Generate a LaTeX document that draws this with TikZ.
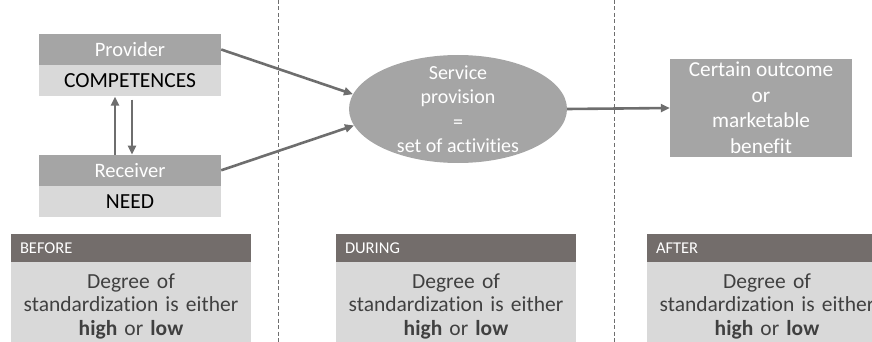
\documentclass[tikz,border=0pt]{standalone}
\usepackage{fontspec}
\setmainfont{Carlito}[Ligatures=NoCommon]
\usepackage{xcolor}
\usetikzlibrary{shapes.geometric, arrows.meta, positioning}

\definecolor{boxgray}{HTML}{A5A5A5}
\definecolor{palegray}{HTML}{D9D9D9}
\definecolor{phasegray}{HTML}{736D6B}
\definecolor{linegray}{HTML}{6E6E6E}
\definecolor{notetext}{HTML}{404040}

\begin{document}
\begin{tikzpicture}[
    x=1pt, y=-1pt,
    role/.style={rectangle, fill=boxgray, minimum width=182pt, minimum height=31pt, inner sep=0pt, text=white, font=\fontsize{20.5}{24}\selectfont},
    trait/.style={rectangle, fill=palegray, minimum width=182pt, minimum height=31pt, inner sep=0pt, text=black, font=\fontsize{21.5}{24}\selectfont},
    phase/.style={rectangle, fill=phasegray, text width=222pt, inner xsep=9pt, inner ysep=0pt, minimum height=28pt, align=left, text=white, font=\fontsize{16.5}{18}\selectfont},
    note/.style={rectangle, fill=palegray, text width=222pt, inner xsep=9pt, inner ysep=11pt, align=center, text=notetext, font=\fontsize{21.5}{23.5}\selectfont},
    arrow/.style={-{Triangle[length=9pt, width=8pt]}, line width=2.6pt, draw=linegray},
    divider/.style={draw=linegray, line width=0.8pt, dash pattern=on 4pt off 2.5pt}
]
\useasboundingbox (0,0) rectangle (872,342);
\clip (0,0) rectangle (872,342);

% Dividers between the phases
\coordinate (cutatop) at (278,0);
\coordinate (cutabot) at (278,342);
\coordinate (cutbtop) at (614,0);
\coordinate (cutbbot) at (614,342);
\draw[divider] (cutatop) -- (cutabot);
\draw[divider] (cutbtop) -- (cutbbot);

% Left: the two parties
\node[role] (provider) at (130,49.5) {Provider};
\node[trait, below=0pt of provider] (competences) {COMPETENCES};
\node[role, below=58pt of competences] (receiver) {Receiver};
\node[trait, below=0pt of receiver] (need) {NEED};

% Middle and right
\node[ellipse, fill=boxgray, minimum width=218pt, minimum height=108pt, inner xsep=0pt, inner ysep=-10pt, align=center, text=white, font=\fontsize{20}{24.5}\selectfont] (service) at (458,109) {Service\\provision\\=\\set of activities};
\node[rectangle, fill=boxgray, minimum width=182pt, minimum height=98pt, inner sep=0pt, align=center, text=white, font=\fontsize{21.3}{25.5}\selectfont] (outcome) at (761,108) {Certain outcome\\or\\marketable\\benefit};

% Bottom: phase boxes
\node[phase] (before) at (131,248) {BEFORE};
\node[note, below=0pt of before] (beforenote) {Degree of\\standardization is either\\\textbf{high} or \textbf{low}};
\node[phase] (during) at (456,248) {DURING};
\node[note, below=0pt of during] (duringnote) {Degree of\\standardization is either\\\textbf{high} or \textbf{low}};
\node[phase] (after) at (767,248) {AFTER};
\node[note, below=0pt of after] (afternote) {Degree of\\standardization is either\\\textbf{high} or \textbf{low}};

% Connectors
\draw[arrow] ([xshift=-15pt]receiver.north) -- ([xshift=-15pt]competences.south);
\draw[arrow] ([xshift=2pt, yshift=-3pt]competences.south) -- ([xshift=2pt]receiver.north);
\draw[arrow] (provider.east) -- (service.172);
\draw[arrow] (receiver.east) -- (service.189);
\draw[arrow] (service.east) -- (outcome.west);

\end{tikzpicture}
\end{document}
